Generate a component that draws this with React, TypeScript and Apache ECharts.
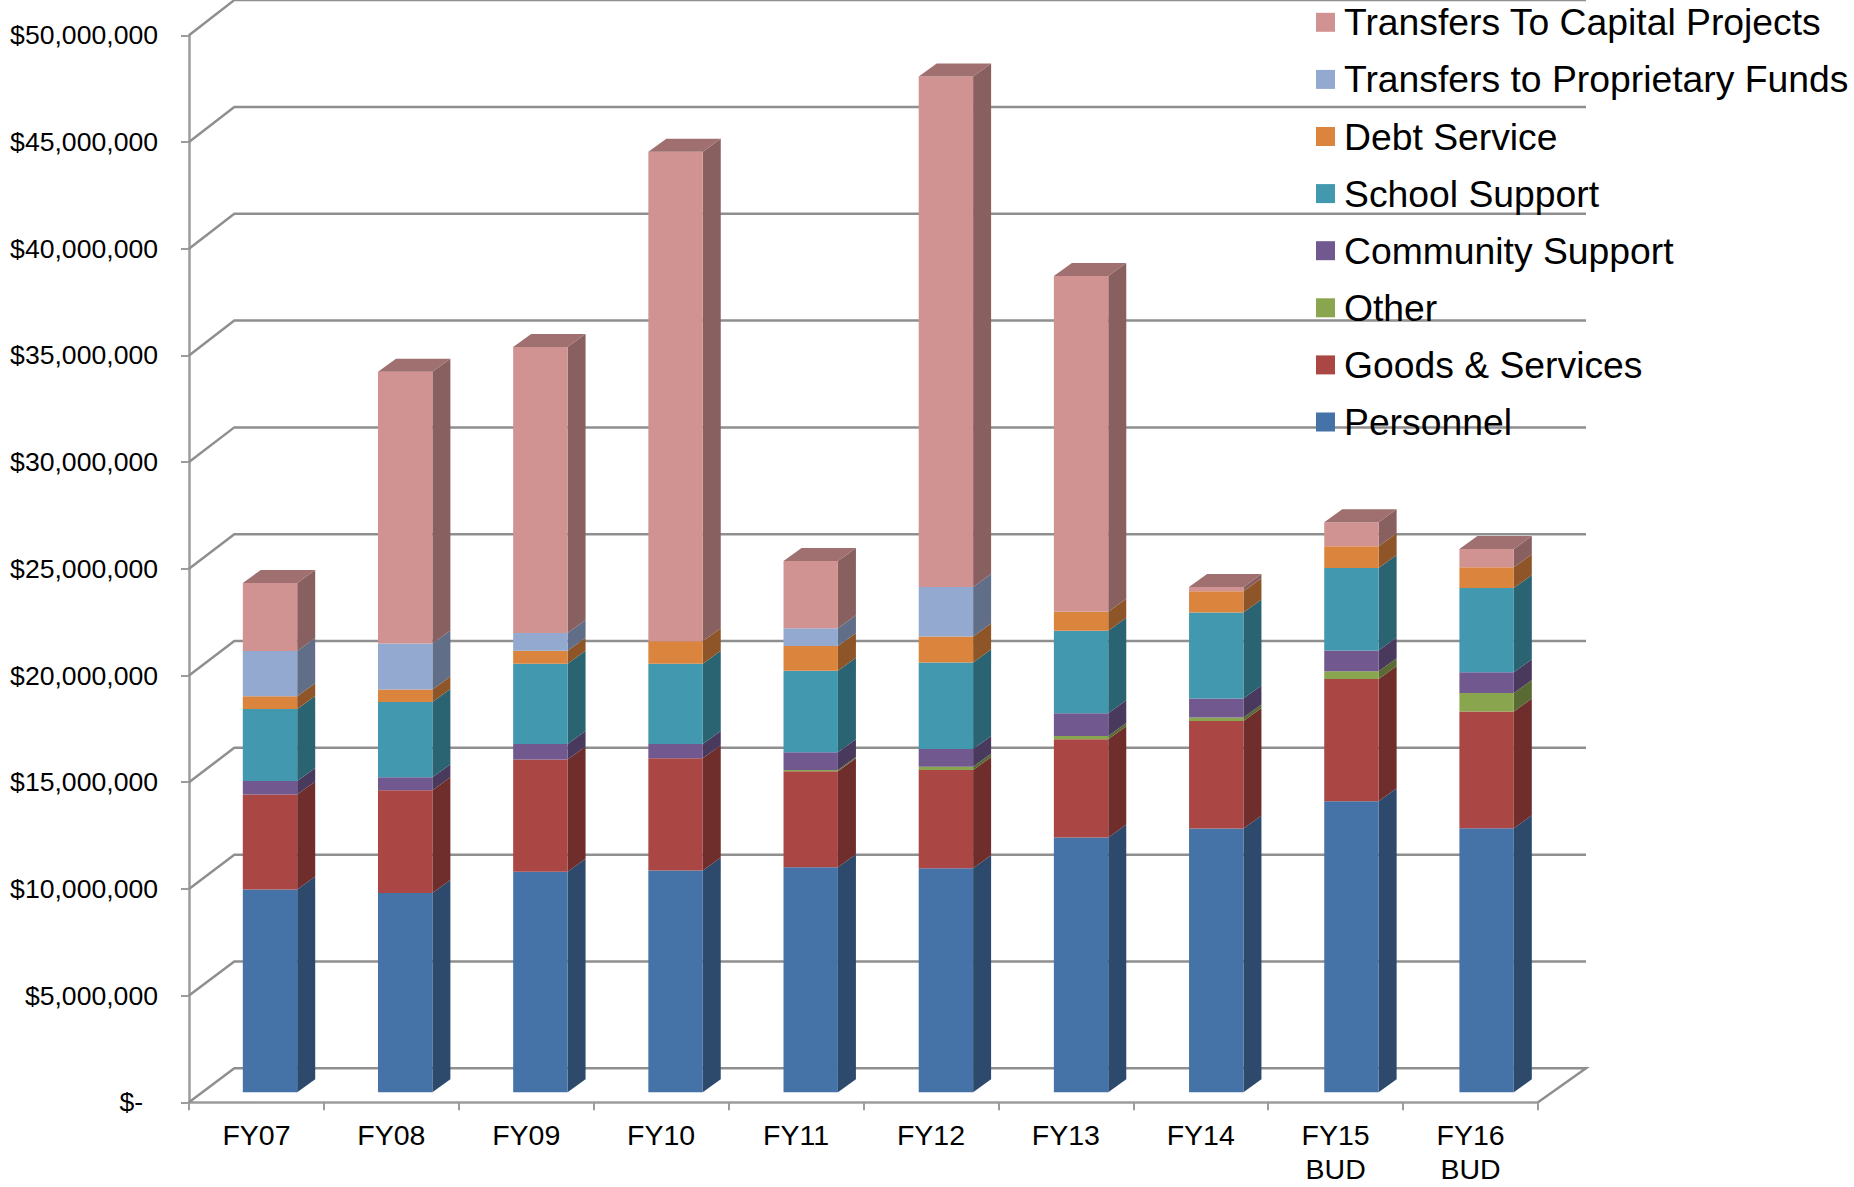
import React, { useEffect, useRef } from "react";
import * as echarts from "echarts";

// Fiscal years on the category axis
const categories = ["FY07", "FY08", "FY09", "FY10", "FY11", "FY12", "FY13", "FY14", "FY15\nBUD", "FY16\nBUD"];

// Spending by fund use, in dollars
const personnel = [9500000, 9340000, 10330000, 10390000, 10550000, 10500000, 11940000, 12360000, 13640000, 12370000];
const goodsServices = [4450000, 4810000, 5270000, 5260000, 4490000, 4600000, 4600000, 5040000, 5730000, 5470000];
const other = [0, 0, 0, 0, 60000, 160000, 160000, 160000, 360000, 870000];
const communitySupport = [640000, 610000, 720000, 670000, 830000, 830000, 1060000, 890000, 970000, 970000];
const schoolSupport = [3370000, 3530000, 3760000, 3760000, 3820000, 4050000, 3870000, 4030000, 3870000, 3950000];
const debtService = [600000, 580000, 610000, 1060000, 1160000, 1220000, 890000, 1000000, 1020000, 970000];
const transfersProprietary = [2120000, 2160000, 830000, 0, 840000, 2320000, 0, 0, 0, 0];
const transfersCapital = [3190000, 12740000, 13410000, 22930000, 3150000, 23920000, 15730000, 200000, 1120000, 860000];

const yTicks = [0, 5000000, 10000000, 15000000, 20000000, 25000000, 30000000, 35000000, 40000000, 45000000, 50000000];

const stackOrder = [
  { name: "Personnel", values: personnel, color: "#4572A7" },
  { name: "Goods & Services", values: goodsServices, color: "#AA4643" },
  { name: "Other", values: other, color: "#89A54E" },
  { name: "Community Support", values: communitySupport, color: "#71588F" },
  { name: "School Support", values: schoolSupport, color: "#4198AF" },
  { name: "Debt Service", values: debtService, color: "#DB843D" },
  { name: "Transfers to Proprietary Funds", values: transfersProprietary, color: "#93A9CF" },
  { name: "Transfers To Capital Projects", values: transfersCapital, color: "#D19392" },
];

const legendOrder = [
  "Transfers To Capital Projects",
  "Transfers to Proprietary Funds",
  "Debt Service",
  "School Support",
  "Community Support",
  "Other",
  "Goods & Services",
  "Personnel",
];

// Darken a hex colour by a factor, for the shaded sides of the columns
function shade(hex: string, f: number): string {
  const n = parseInt(hex.slice(1), 16);
  const c = [(n >> 16) & 255, (n >> 8) & 255, n & 255].map((v) => Math.round(v * f));
  return `rgb(${c[0]},${c[1]},${c[2]})`;
}

const AXIS_GREY = "#9c9c9c";
const WALL_GREY = "#8f8f8f";

// Back wall and floor of the pseudo-3D plot box
function wallSeries() {
  return {
    type: "custom",
    z: 1,
    silent: true,
    data: yTicks.map((v) => [0, v]),
    encode: { x: 0, y: 1 },
    renderItem: (params: any, api: any) => {
      const cs = params.coordSys;
      const v = api.value(1);
      const y = api.coord([0, v])[1];
      const left = cs.x;
      const right = cs.x + cs.width;
      // the wall recedes slightly further at the top of the box
      const rise = 34 + (1.2 * v) / 50000000;
      const pts = [
        [left, y],
        [left + 45.3, y - rise],
        [right + 48, y - rise],
      ];
      if (v === 0) pts.push([right, y]);
      return {
        type: "polyline",
        shape: { points: pts },
        style: { fill: "none", stroke: WALL_GREY, lineWidth: 2.5 },
      };
    },
  };
}

// Stacked columns with a shaded side face; the last segment also carries the top face
function columnSeries() {
  const totals = categories.map(() => 0);
  return stackOrder.map((s, idx) => {
    const data = s.values.map((v, i) => {
      const base = totals[i];
      totals[i] += v;
      return [i, base, totals[i]];
    });
    const isTop = idx === stackOrder.length - 1;
    return {
      type: "custom",
      name: s.name,
      z: 2,
      itemStyle: { color: s.color },
      data,
      encode: { x: 0, y: [1, 2] },
      renderItem: (_params: any, api: any) => {
        const base = api.value(1);
        const top = api.value(2);
        if (top <= base) return { type: "group", children: [] };
        const w = 54.4;
        const depthX = 18;
        const depthY = 13;
        const a = api.coord([api.value(0), base]);
        const b = api.coord([api.value(0), top]);
        // columns stand part way into the floor's depth, with a slight perspective spread
        const cx = a[0] * 1.00206 + 13.03;
        const x0 = cx - w / 2;
        const x1 = x0 + w;
        const yB = a[1] - 10;
        const yT = b[1] - 10;
        const children: any[] = [
          {
            type: "polygon",
            shape: {
              points: [
                [x1, yT],
                [x1 + depthX, yT - depthY],
                [x1 + depthX, yB - depthY],
                [x1, yB],
              ],
            },
            style: { fill: shade(s.color, 0.65) },
          },
          {
            type: "rect",
            shape: { x: x0, y: yT, width: w, height: yB - yT },
            style: { fill: s.color },
          },
        ];
        if (isTop) {
          children.push({
            type: "polygon",
            shape: {
              points: [
                [x0, yT],
                [x0 + depthX, yT - depthY],
                [x1 + depthX, yT - depthY],
                [x1, yT],
              ],
            },
            style: { fill: shade(s.color, 0.76) },
          });
        }
        return { type: "group", children };
      },
    };
  });
}

export default function App() {
  const ref = useRef<HTMLDivElement>(null);
  useEffect(() => {
    document.body.style.margin = "0";
    const chart = echarts.init(ref.current!, undefined, { renderer: "svg" });
    chart.setOption({
      animation: false,
      backgroundColor: "#ffffff",
      grid: { left: 189, right: 316, top: 35.3, bottom: 84.7 },
      legend: {
        data: legendOrder,
        orient: "vertical",
        left: 1316,
        top: 1.3,
        padding: 0,
        itemWidth: 19,
        itemHeight: 19,
        itemGap: 15.1,
        icon: "rect",
        selectedMode: false,
        textStyle: {
          fontFamily: "Liberation Sans",
          fontSize: 37.3,
          lineHeight: 38,
          color: "#000000",
          padding: [0, 0, 4, 4],
        },
      },
      xAxis: {
        type: "category",
        data: categories,
        axisLine: { lineStyle: { color: AXIS_GREY, width: 2.5 } },
        axisTick: { show: true, alignWithLabel: false, length: 8, lineStyle: { color: AXIS_GREY, width: 2 } },
        axisLabel: {
          fontFamily: "Liberation Sans",
          fontSize: 28.5,
          lineHeight: 34,
          color: "#000000",
          margin: 16,
          interval: 0,
        },
        splitLine: { show: false },
      },
      yAxis: {
        type: "value",
        min: 0,
        max: 50000000,
        interval: 5000000,
        axisLine: { show: true, lineStyle: { color: AXIS_GREY, width: 2.5 } },
        axisTick: { show: true, length: 8, lineStyle: { color: AXIS_GREY, width: 2 } },
        axisLabel: {
          fontFamily: "Liberation Sans",
          fontSize: 26.6,
          color: "#000000",
          margin: 31,
          padding: [2, 0, 0, 0],
          formatter: (v: number) => (v === 0 ? "$-\u00a0\u00a0" : "$" + v.toLocaleString("en-US")),
        },
        splitLine: { show: false },
      },
      series: [wallSeries(), ...columnSeries()],
    });
    return () => chart.dispose();
  }, []);
  return <div ref={ref} style={{ position: "absolute", left: 0, top: 0, width: 1854, height: 1187 }} />;
}
